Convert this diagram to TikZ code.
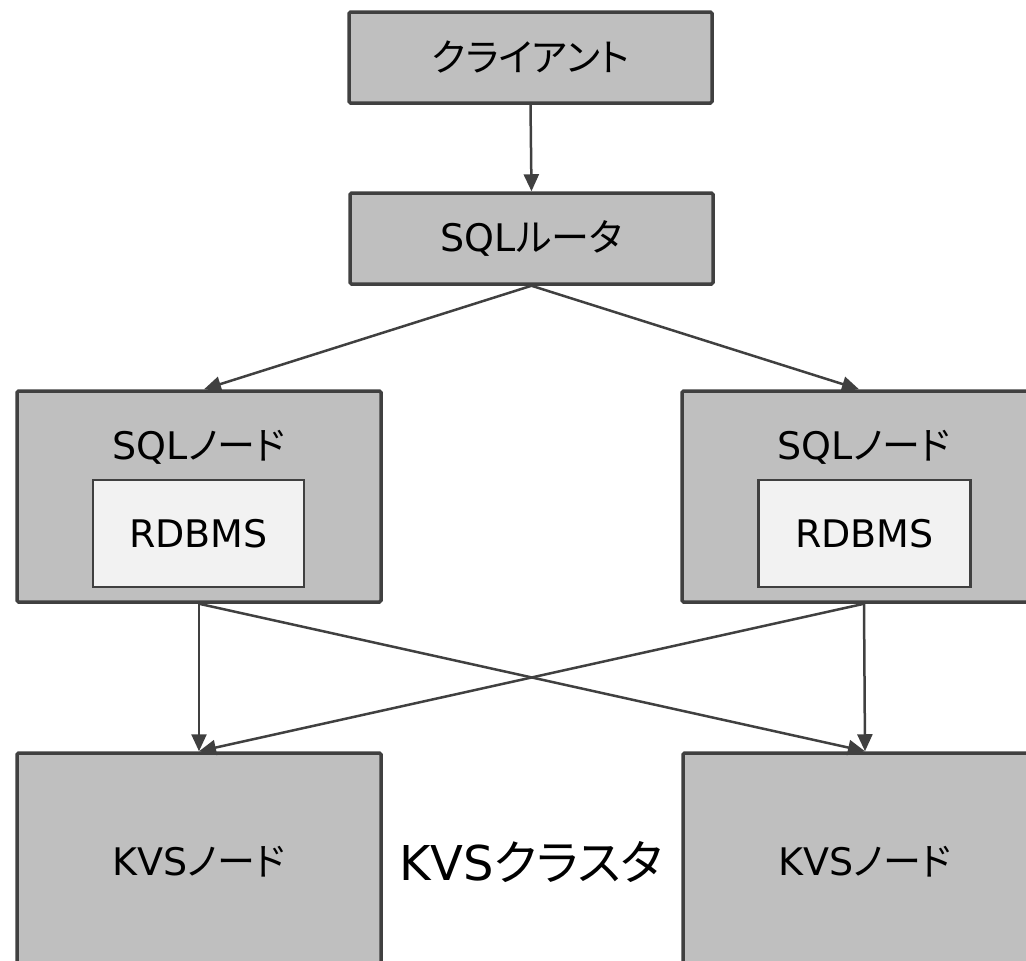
\documentclass[tikz,border=0pt]{standalone}
\usepackage{fontspec}
\setmainfont{DejaVu Sans}
\newfontfamily\jp{Noto Sans CJK JP}[RawFeature={+palt}]
\usetikzlibrary{arrows.meta}
\definecolor{edge}{HTML}{404040}
\definecolor{boxfill}{HTML}{BFBFBF}
\definecolor{innerfill}{HTML}{F2F2F2}
\newcommand{\J}[1]{{\jp\fontsize{38}{44}\selectfont #1}}
\begin{document}
\begin{tikzpicture}[x=1pt,y=-1pt,
  box/.style={draw=edge,fill=boxfill,line width=3.5pt,rounded corners=1.5pt,inner sep=0pt,font=\fontsize{38}{44}\selectfont},
  inner/.style={draw=edge,fill=innerfill,line width=2.5pt,inner sep=0pt,font=\fontsize{38}{44}\selectfont},
  lbl/.style={inner sep=0pt,font=\fontsize{38}{44}\selectfont},
  conn/.style={draw=edge,line width=2.5pt,-{Triangle[length=17pt,width=15pt]}}]
\useasboundingbox (0,0) rectangle (1026,961);
\clip (0,0) rectangle (1026,961);
% top boxes
\node[box,minimum width=363pt,minimum height=91pt] (client) at (530.5,57.5) {\J{クライアント}};
\node[box,minimum width=363pt,minimum height=91pt] (router) at (531.5,238.5) {SQL\J{ルータ}};
% SQL nodes
\node[box,minimum width=364pt,minimum height=211pt] (sqlL) at (199,496.5) {};
\node[box,minimum width=364pt,minimum height=211pt] (sqlR) at (864,496.5) {};
\node[lbl] (sqlLt) at (199,447) {SQL\J{ノード}};
\node[lbl] (sqlRt) at (864,447) {SQL\J{ノード}};
\node[inner,minimum width=211pt,minimum height=107pt] (rdbL) at (198.5,533.5) {RDBMS};
\node[inner,minimum width=212pt,minimum height=107pt] (rdbR) at (864.5,533.5) {RDBMS};
% KVS nodes
\node[box,minimum width=364pt,minimum height=218pt] (kvsL) at (199,862) {KVS\J{ノード}};
\node[box,minimum width=364pt,minimum height=218pt] (kvsR) at (865,862) {KVS\J{ノード}};
\node[lbl,font=\fontsize{48}{56}\selectfont] (cluster) at (531,862) {KVS{\jp\fontsize{48}{56}\selectfont クラスタ}};
% connectors
\draw[conn] (client.south) -- (router.north);
\draw[conn] (router.south) -- ([xshift=5pt]sqlL.north);
\draw[conn] (router.south) -- ([xshift=-5pt]sqlR.north);
\draw[conn] (sqlL.south) -- (kvsL.north);
\draw[conn] (sqlL.south) -- (kvsR.north);
\draw[conn] (sqlR.south) -- (kvsR.north);
\draw[conn] (sqlR.south) -- (kvsL.north);
\end{tikzpicture}
\end{document}
